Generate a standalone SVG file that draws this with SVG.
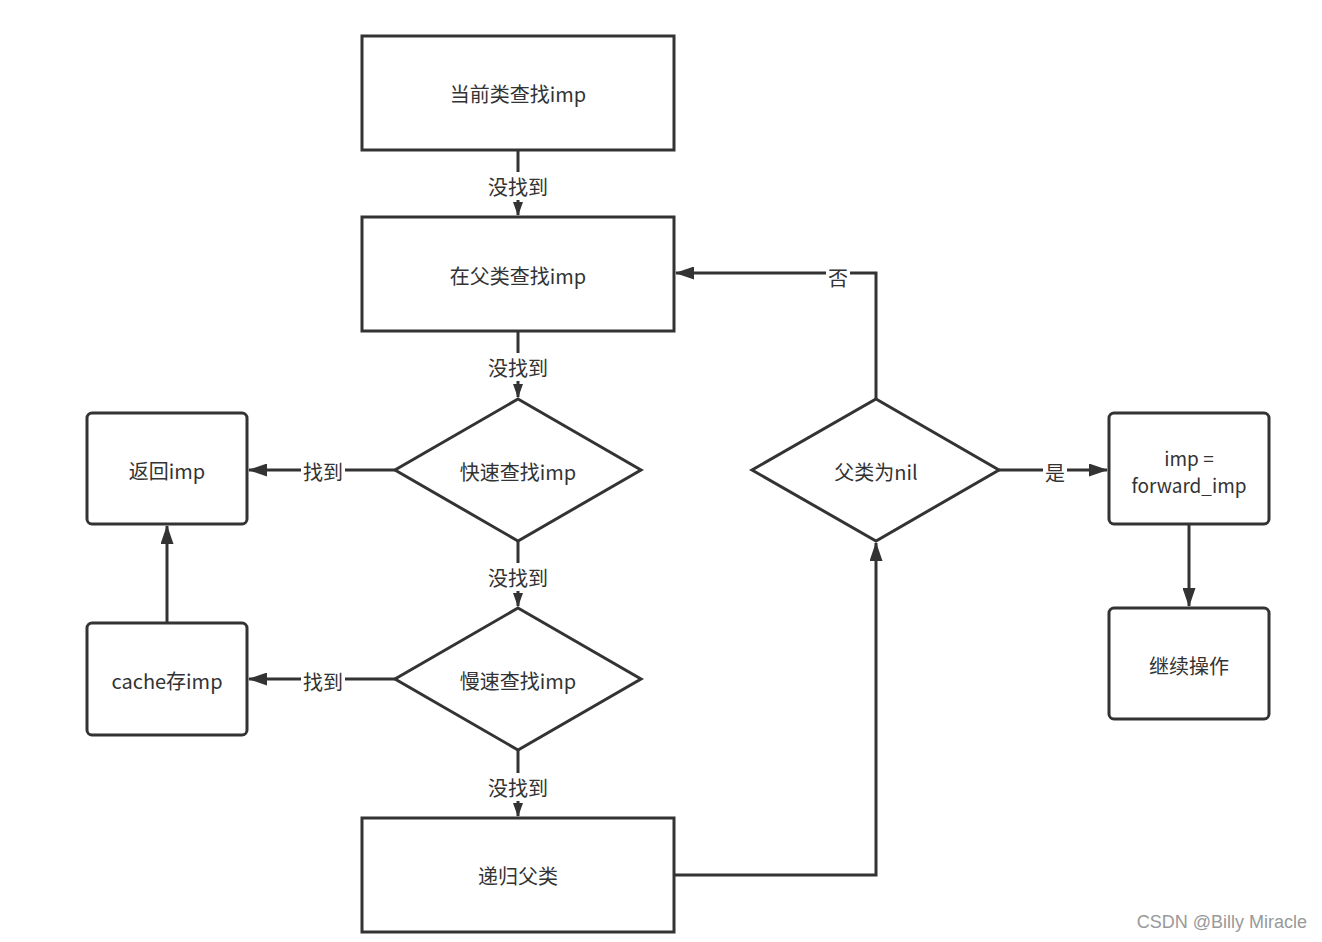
<svg xmlns="http://www.w3.org/2000/svg" width="1322" height="942" viewBox="0 0 1322 942">
<style>
.n{fill:#fff;stroke:#333;stroke-width:3}
.t{font-family:"Noto Sans CJK SC","Noto Sans",sans-serif;font-size:20px;fill:#333;text-anchor:middle;dominant-baseline:central}
.c{fill:none;stroke:#333;stroke-width:3}
.lb{fill:#fff}
</style>
<defs>
<marker id="a" viewBox="0 0 14 10" refX="13" refY="5" markerWidth="14" markerHeight="10" markerUnits="userSpaceOnUse" orient="auto">
<path d="M0,0 L14,5 L0,10 Z" fill="#333"/>
</marker>
<marker id="b" viewBox="0 0 19 13" refX="18" refY="6.5" markerWidth="19" markerHeight="13" markerUnits="userSpaceOnUse" orient="auto">
<path d="M0,0 L19,6.5 L0,13 Z" fill="#333"/>
</marker>
</defs>
<rect width="1322" height="942" fill="#fff"/>
<g id="connectors">
<path class="c" d="M518,150 V215" marker-end="url(#a)"/>
<path class="c" d="M518,331 V397" marker-end="url(#a)"/>
<path class="c" d="M395,470 H249" marker-end="url(#b)"/>
<path class="c" d="M518,541 V606" marker-end="url(#a)"/>
<path class="c" d="M395,679 H249" marker-end="url(#b)"/>
<path class="c" d="M167,623 V526" marker-end="url(#b)"/>
<path class="c" d="M518,750 V816" marker-end="url(#a)"/>
<path class="c" d="M674,875 H876 V543" marker-end="url(#b)"/>
<path class="c" d="M876,399 V273 H676" marker-end="url(#b)"/>
<path class="c" d="M999,470 H1107" marker-end="url(#b)"/>
<path class="c" d="M1189,524 V606" marker-end="url(#b)"/>
<rect class="lb" x="487" y="172" width="62" height="28"/>
<text class="t" x="518" y="186">没找到</text>
<rect class="lb" x="487" y="353" width="62" height="28"/>
<text class="t" x="518" y="367">没找到</text>
<rect class="lb" x="301" y="456" width="44" height="28"/>
<text class="t" x="323" y="471">找到</text>
<rect class="lb" x="487" y="563" width="62" height="28"/>
<text class="t" x="518" y="577">没找到</text>
<rect class="lb" x="301" y="665" width="44" height="28"/>
<text class="t" x="323" y="681">找到</text>
<rect class="lb" x="487" y="773" width="62" height="28"/>
<text class="t" x="518" y="787">没找到</text>
<rect class="lb" x="826" y="260" width="24" height="28"/>
<text class="t" x="838" y="277">否</text>
<rect class="lb" x="1043" y="456" width="24" height="28"/>
<text class="t" x="1055" y="472">是</text>
</g>
<g id="n1"><rect class="n" x="362" y="36" width="312" height="114"/><text class="t" x="518" y="93">当前类查找imp</text></g>
<g id="n2"><rect class="n" x="362" y="217" width="312" height="114"/><text class="t" x="518" y="275">在父类查找imp</text></g>
<g id="n3"><path class="n" d="M518,399 L641,470 L518,541 L395,470 Z"/><text class="t" x="518" y="471">快速查找imp</text></g>
<g id="n4"><rect class="n" x="87" y="413" width="160" height="111" rx="5"/><text class="t" x="167" y="470">返回imp</text></g>
<g id="n5"><path class="n" d="M518,608 L641,679 L518,750 L395,679 Z"/><text class="t" x="518" y="680">慢速查找imp</text></g>
<g id="n6"><rect class="n" x="87" y="623" width="160" height="112" rx="5"/><text class="t" x="167" y="680">cache存imp</text></g>
<g id="n7"><rect class="n" x="362" y="818" width="312" height="114"/><text class="t" x="518" y="875">递归父类</text></g>
<g id="n8"><path class="n" d="M876,399 L999,470 L876,541 L752,470 Z"/><text class="t" x="876" y="471">父类为nil</text></g>
<g id="n9"><rect class="n" x="1109" y="413" width="160" height="111" rx="5"/><text class="t" x="1189" y="457" style="font-size:19px">imp =</text><text class="t" x="1189" y="484" style="font-size:19px">forward_imp</text></g>
<g id="n10"><rect class="n" x="1109" y="608" width="160" height="111" rx="5"/><text class="t" x="1189" y="665">继续操作</text></g>
<text x="1307" y="922" font-family="Liberation Sans,Arial,sans-serif" font-size="18" fill="#999" text-anchor="end" dominant-baseline="central">CSDN @Billy Miracle</text>
</svg>
